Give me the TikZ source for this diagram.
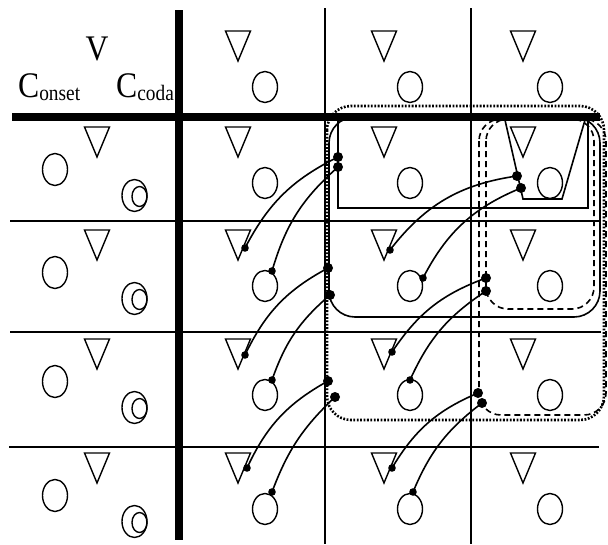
\documentclass[tikz,border=0pt]{standalone}
\usepackage{fontspec}
\setmainfont{Liberation Serif}
\begin{document}
\begin{tikzpicture}[x=1pt,y=-1pt,
  sym/.style={line width=1.4pt},
  grid/.style={line width=1.7pt},
  heavy/.style={line width=8.5pt},
  link/.style={line width=1.6pt},
  dotbox/.style={line width=2.6pt, dash pattern=on 1.8pt off 1.6pt, rounded corners=24pt},
  dashbox/.style={line width=1.6pt, dash pattern=on 6pt off 4pt, rounded corners=22pt},
  solbox/.style={line width=1.6pt, rounded corners=26pt},
  lab/.style={inner sep=0pt, xscale=0.88, font=\fontsize{36}{40}\selectfont},
  tri/.pic={\draw[sym] (-12.5,0) -- (12.5,0) -- (0,30) -- cycle;}
  ]
\fill[white] (0,0) rectangle (608,544);
\useasboundingbox (0,0) rectangle (608,544);

% header labels
\node[lab, anchor=base] (v) at (97,60) {V};
\node[lab, anchor=base west] (con) at (18,97) {C\raisebox{-3pt}{\fontsize{22}{24}\selectfont onset}};
\node[lab, anchor=base west] (cod) at (116,97) {C\raisebox{-3pt}{\fontsize{22}{24}\selectfont coda}};

% left column symbols
\foreach \y in {127,230,339,453} {
  \pic at (97,\y) {tri};
  \draw[sym] (55,\y+42.5) ellipse [x radius=12.5pt, y radius=16pt];
  \draw[sym] (134.5,\y+68.5) ellipse [x radius=12.5pt, y radius=16pt];
  \draw[sym] (139.5,\y+69.5) ellipse [x radius=7.5pt, y radius=10pt];
}
% right columns symbols
\foreach \y in {31,127,230,339,453} {
  \foreach \tx/\cx in {238/265,384/410,523/550} {
    \pic at (\tx,\y) {tri};
    \draw[sym] (\cx,\y+56) ellipse [x radius=12.5pt, y radius=15.5pt];
  }
}

% grid
\draw[grid] (325,8) -- (325,544);
\draw[grid] (471,8) -- (471,544);
\draw[grid] (10,221) -- (601,221);
\draw[grid] (10,332) -- (601,332);
\draw[grid] (9,447) -- (599,447);

% boxes
\draw[line width=1.8pt] (338,117) rectangle (588,208);
\draw[sym, line width=1.6pt] (505,120) -- (523,199) -- (562,199) -- (585,120);
\draw[solbox] (329,117) rectangle (600,317);
\draw[dashbox] (486,119) rectangle (594,309);
\draw[dashbox] (479,119) rectangle (606,415);
\draw[dotbox] (327,106) rectangle (604,420);

% heavy lines
\draw[heavy] (12,117) -- (600,117);
\draw[heavy] (179,10) -- (179,540);

% connector end points
\coordinate (a1s) at (338,157); \coordinate (a1t) at (245,248);
\coordinate (a2s) at (338,167); \coordinate (a2t) at (272,271);
\coordinate (b1s) at (517,176); \coordinate (b1t) at (390,250);
\coordinate (b2s) at (521,188); \coordinate (b2t) at (423,278);
\coordinate (c1s) at (328,268); \coordinate (c1t) at (245,355);
\coordinate (c2s) at (330,295); \coordinate (c2t) at (272,380);
\coordinate (d1s) at (486,278); \coordinate (d1t) at (392,352);
\coordinate (d2s) at (486,291); \coordinate (d2t) at (410,380);
\coordinate (e1s) at (328,381); \coordinate (e1t) at (247,468);
\coordinate (e2s) at (335,397); \coordinate (e2t) at (272,492);
\coordinate (f1s) at (478,393); \coordinate (f1t) at (392,468);
\coordinate (f2s) at (482,403); \coordinate (f2t) at (413,492);

\foreach \s/\t/\b in {a1s/a1t/18,a2s/a2t/16,b1s/b1t/22,b2s/b2t/20,c1s/c1t/18,c2s/c2t/15,
  d1s/d1t/18,d2s/d2t/16,e1s/e1t/18,e2s/e2t/13,f1s/f1t/18,f2s/f2t/15} {
  \draw[link] (\s) to[bend right=\b] (\t);
  \fill (\s) circle (5pt);
  \fill (\t) circle (3.8pt);
}
\end{tikzpicture}
\end{document}
